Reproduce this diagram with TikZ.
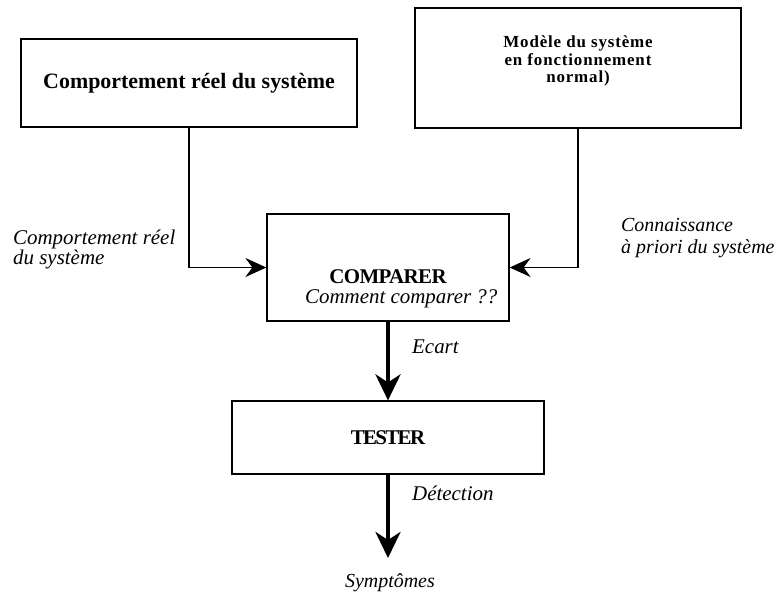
\documentclass[tikz,border=0pt]{standalone}
\usepackage{fontspec}
\setmainfont{Liberation Serif}
\usetikzlibrary{arrows.meta}
\tikzset{
  boite/.style={draw,line width=1.2bp,inner sep=0pt},
  lien/.style={line width=1.6bp,-{Stealth[length=21bp,width=19bp,inset=7bp]}},
  sortie/.style={line width=4bp,-{Stealth[length=26bp,width=25bp,inset=8bp]}},
  etiquette/.style={font=\fontsize{21}{19}\selectfont\itshape,inner sep=0pt},
  titre/.style={font=\bfseries\fontsize{22}{26}\selectfont,inner sep=0pt},
  serre/.style={font=\bfseries\fontsize{21}{21}\selectfont\addfontfeature{LetterSpace=#1},inner sep=0pt}
}
\begin{document}
\begin{tikzpicture}[x=1bp,y=-1bp]
    \useasboundingbox (0,0) rectangle (782,595);
    % boites
    \node[boite,minimum width=336bp,minimum height=88bp,titre](reel) at (189,83){Comportement réel du système};
    \node[boite,minimum width=326bp,minimum height=120bp](modele) at (578,68){};
    \node[align=center,anchor=base,inner sep=0pt,font=\bfseries\fontsize{17}{18}\selectfont\addfontfeature{LetterSpace=5}](modeletxt) at (578,83){Modèle du système\\en fonctionnement\\normal)};
    \node[boite,minimum width=242bp,minimum height=107bp](comparer) at (388,267.5){};
    \node[serre=-3,anchor=base](comparertxt) at (388,283){COMPARER};
    \node[etiquette,anchor=base west](question) at (305,303){Comment comparer ??};
    \node[boite,minimum width=312bp,minimum height=73bp,serre=-8](tester) at (388,437.5){TESTER};
    % etiquettes
    \node[etiquette,align=left,anchor=base west](lreel) at (13,264){Comportement réel\\du système};
    \node[etiquette,align=left,anchor=base west,font=\fontsize{20}{22}\selectfont\itshape](lconnaissance) at (621,253){Connaissance\\à priori du système};
    \node[etiquette,anchor=base west](lecart) at (412,353){Ecart};
    \node[etiquette,anchor=base west](ldetection) at (412,500){Détection};
    \node[etiquette,anchor=base,font=\fontsize{20}{20}\selectfont\itshape](symptomes) at (390,587){Symptômes};
    \coordinate (fin) at (388,558);
    % fleches
    \draw[lien](reel.south)|-(comparer.west);
    \draw[lien](modele.south)|-(comparer.east);
    \draw[sortie](comparer.south)--(tester.north);
    \draw[sortie](tester.south)--(fin);
\end{tikzpicture}
\end{document}
